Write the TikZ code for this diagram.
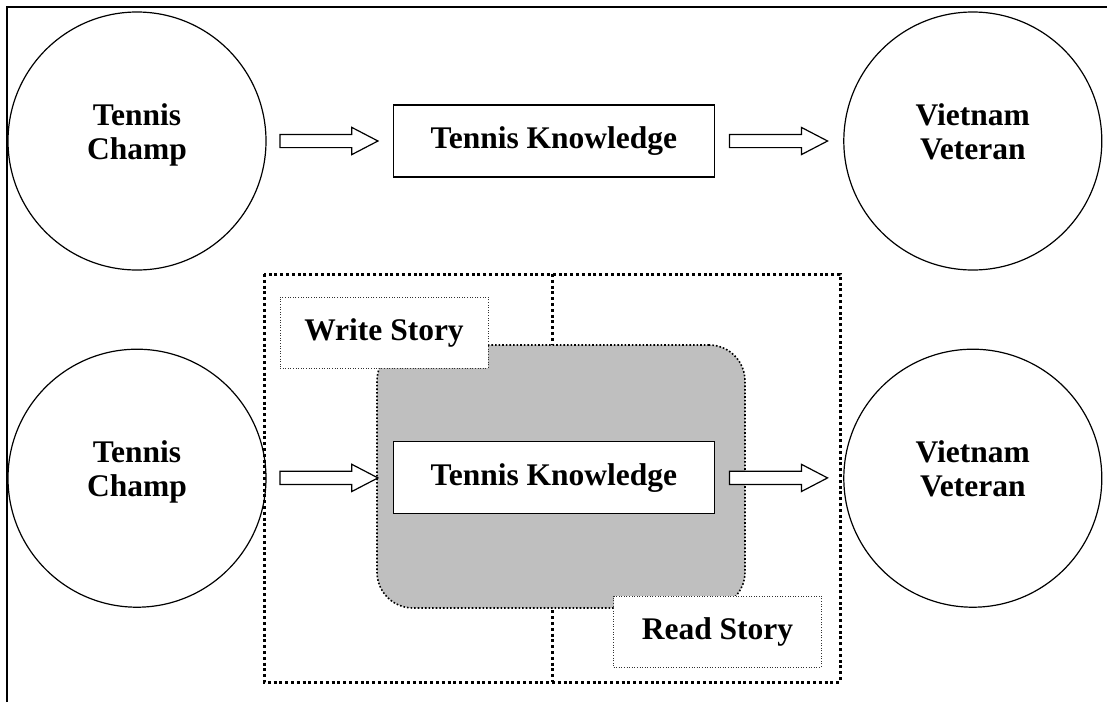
\documentclass[tikz,border=0pt]{standalone}
\usepackage{fontspec}
\setmainfont{Liberation Serif}
\usetikzlibrary{positioning,shapes.arrows}

\begin{document}
\begin{tikzpicture}[x=1pt,y=-1pt,
    every node/.style={font=\bfseries\fontsize{31.5}{34}\selectfont},
    person/.style={draw,circle,line width=1.2pt,minimum size=258pt,inner sep=0pt,align=center,text depth=19pt},
    knowbox/.style={draw,fill=white,line width=1.6pt,minimum width=321pt,minimum height=72pt,inner sep=0pt},
    storybox/.style={draw=black!80,fill=white,line width=1pt,dash pattern=on 1pt off 1.6pt,
                     minimum width=208pt,minimum height=71pt,inner sep=0pt},
    blockarrow/.style={draw,fill=white,single arrow,line width=1.2pt,minimum height=98pt,xshift=-7pt,
                       inner sep=0pt,inner ysep=6pt,single arrow head extend=7pt,single arrow tip angle=55},
    heavydots/.style={line width=3pt,dash pattern=on 3pt off 2.8pt}]
  \useasboundingbox (0,0) rectangle (1107,702);

  % frame
  \draw[line width=1.8pt] (7,702) -- (7,7) -- (1107,7);

  % top row
  \node[person] (champA) at (137,141) {Tennis\\Champ};
  \node[knowbox] (knowA) [right=126pt of champA] {Tennis Knowledge};
  \node[person] (vetA) [right=128pt of knowA] {Vietnam\\Veteran};

  % bottom row
  \draw[heavydots] (264,274) rectangle (840,682);
  \draw[heavydots] (552,274) -- (552,682);
  \node[draw,fill=black!25,rounded corners=36pt,line width=1.6pt,dash pattern=on 1.6pt off 2pt,
        minimum width=368pt,minimum height=263pt] (story) at (561,476.5) {};
  \node[storybox] (write) at (384,332.5) {Write Story};
  \node[storybox] (read) at (717.5,631.5) {Read Story};

  \node[person] (champB) [below=78pt of champA] {Tennis\\Champ};
  \node[knowbox] (knowB) [below=263pt of knowA] {Tennis Knowledge};
  \node[person] (vetB) [below=78pt of vetA] {Vietnam\\Veteran};

  % arrows
  \path (champA.east) -- node[blockarrow] {} (knowA.west)
        (knowA.east) -- node[blockarrow] {} (vetA.west)
        (champB.east) -- node[blockarrow] {} (knowB.west)
        (knowB.east) -- node[blockarrow] {} (vetB.west);
\end{tikzpicture}
\end{document}
